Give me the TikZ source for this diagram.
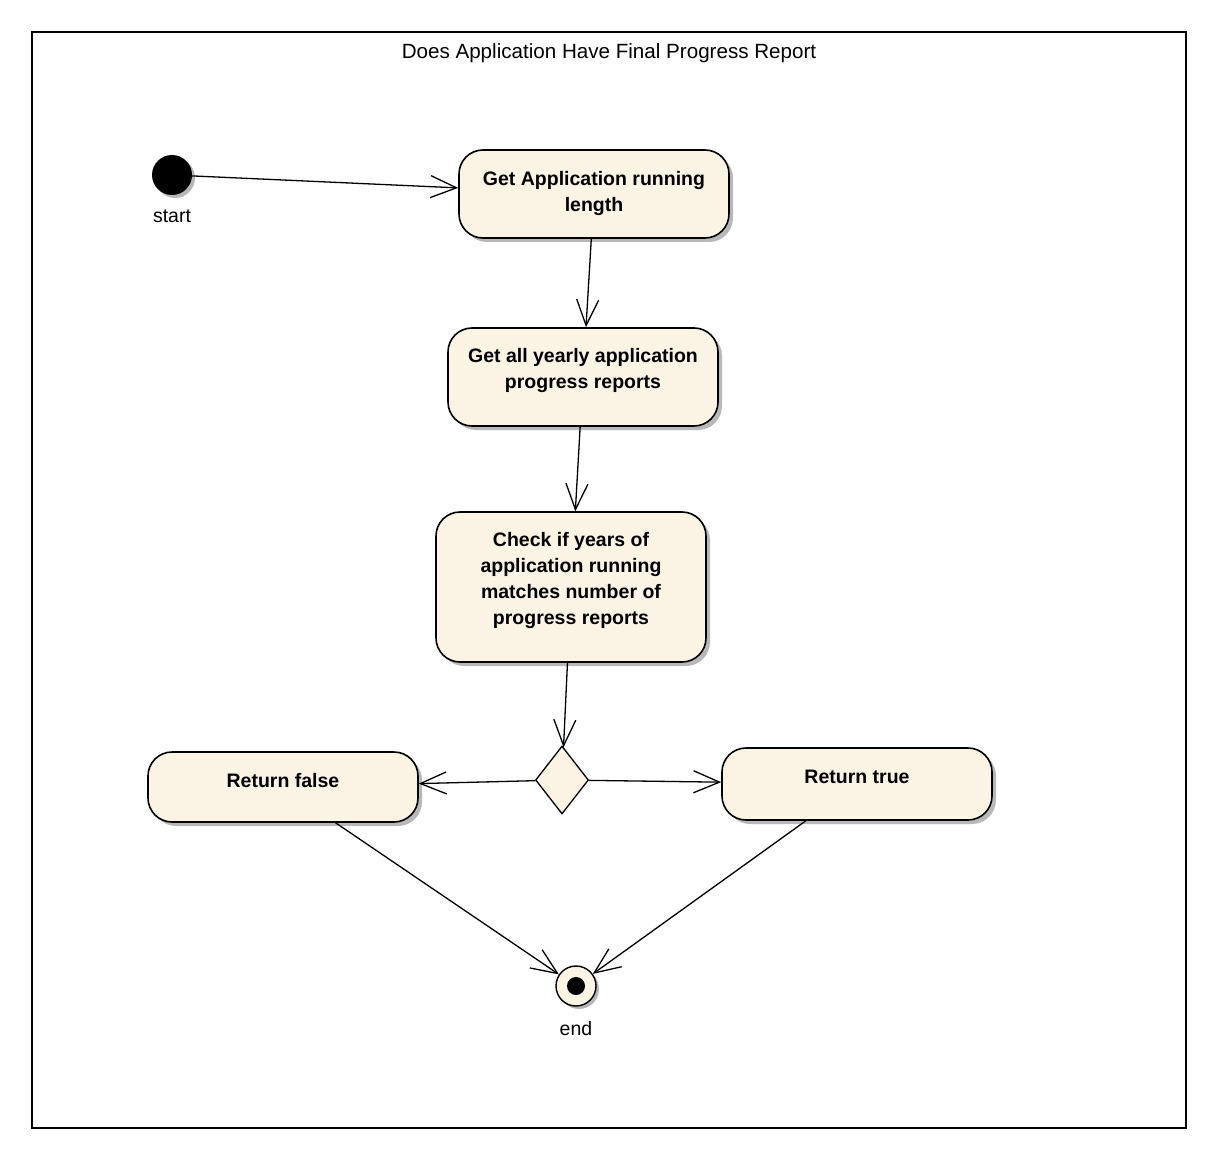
\documentclass[tikz,border=0pt]{standalone}
\usepackage{fontspec}
\setmainfont{Liberation Sans}
\usetikzlibrary{shapes,arrows.meta,shadows}
\definecolor{actfill}{RGB}{251,243,228}
\tikzstyle{line} = [draw, line width=1.3pt, -{Straight Barb[length=26pt,width=22pt]}]
\tikzstyle{activity} = [draw, line width=1.6pt, rectangle, rounded corners=24pt, fill=actfill, minimum width=270pt, align=center, font=\bfseries\fontsize{19.5}{26}\selectfont, drop shadow={shadow xshift=4pt, shadow yshift=-4pt, fill=black!28, opacity=1}]
\tikzstyle{decision} = [draw, diamond, fill=actfill, line width=1.3pt, minimum width=53pt, minimum height=68pt, inner sep=0pt]
\tikzstyle{initial} = [circle, fill=black, minimum size=40pt, inner sep=0pt, drop shadow={shadow xshift=3pt, shadow yshift=-3pt, fill=black!28, opacity=1}]
\tikzstyle{final} = [draw, circle, fill=actfill, line width=1.4pt, minimum size=40pt, inner sep=0pt, drop shadow={shadow xshift=3pt, shadow yshift=-3pt, fill=black!28, opacity=1}]
\tikzstyle{caption} = [font=\fontsize{19.5}{24}\selectfont, inner sep=2pt, label distance=12pt]

\begin{document}
\begin{tikzpicture}[x=1pt, y=-1pt, node distance=180pt]
        \useasboundingbox (0,0) rectangle (1221,1169);
        \draw[line width=1.5pt] (32,32) rectangle (1186,1128);
        \node[font=\fontsize{20.6}{24}\selectfont] (title) at (609,53) {Does Application Have Final Progress Report};
        \node[initial, label={[caption]below:start}] (start) at (172,175) {};
        \node[activity, minimum height=88pt, execute at end node={\rule[-6pt]{0pt}{0pt}}] (length) at (594,194) {Get Application running\\length};
        \node[activity, below of=length, node distance=183pt, xshift=-11pt, minimum height=98pt, execute at end node={\rule[-18pt]{0pt}{0pt}}] (reports) {Get all yearly application\\progress reports};
        \node[activity, below of=reports, node distance=210pt, xshift=-12pt, minimum height=150pt, execute at end node={\rule[-18pt]{0pt}{0pt}}] (check) {Check if years of\\application running\\matches number of\\progress reports};
        \node[decision, below of=check, node distance=193pt, xshift=-9pt] (match) {};
        \node[activity, left of=match, node distance=279pt, yshift=-7pt, minimum height=70pt, execute at end node={\rule[-14pt]{0pt}{0pt}}] (false) {Return false};
        \node[activity, right of=match, node distance=295pt, yshift=-4pt, minimum height=72pt, execute at end node={\rule[-14pt]{0pt}{0pt}}] (true) {Return true};
        \node[final, below of=match, node distance=206pt, xshift=14pt, label={[caption]below:end}] (end) {};
        \node[circle, fill=black, minimum size=18pt, inner sep=0pt] (enddot) at (end) {};
        \path[line] (start) -- (length);
        \path[line] (length) -- (reports);
        \path[line] (reports) -- (check);
        \path[line] (check) -- (match);
        \path[line] (match) -- (false);
        \path[line] (match) -- (true);
        \path[line] (false) -- (end);
        \path[line] (true) -- (end);
    \end{tikzpicture}
\end{document}
